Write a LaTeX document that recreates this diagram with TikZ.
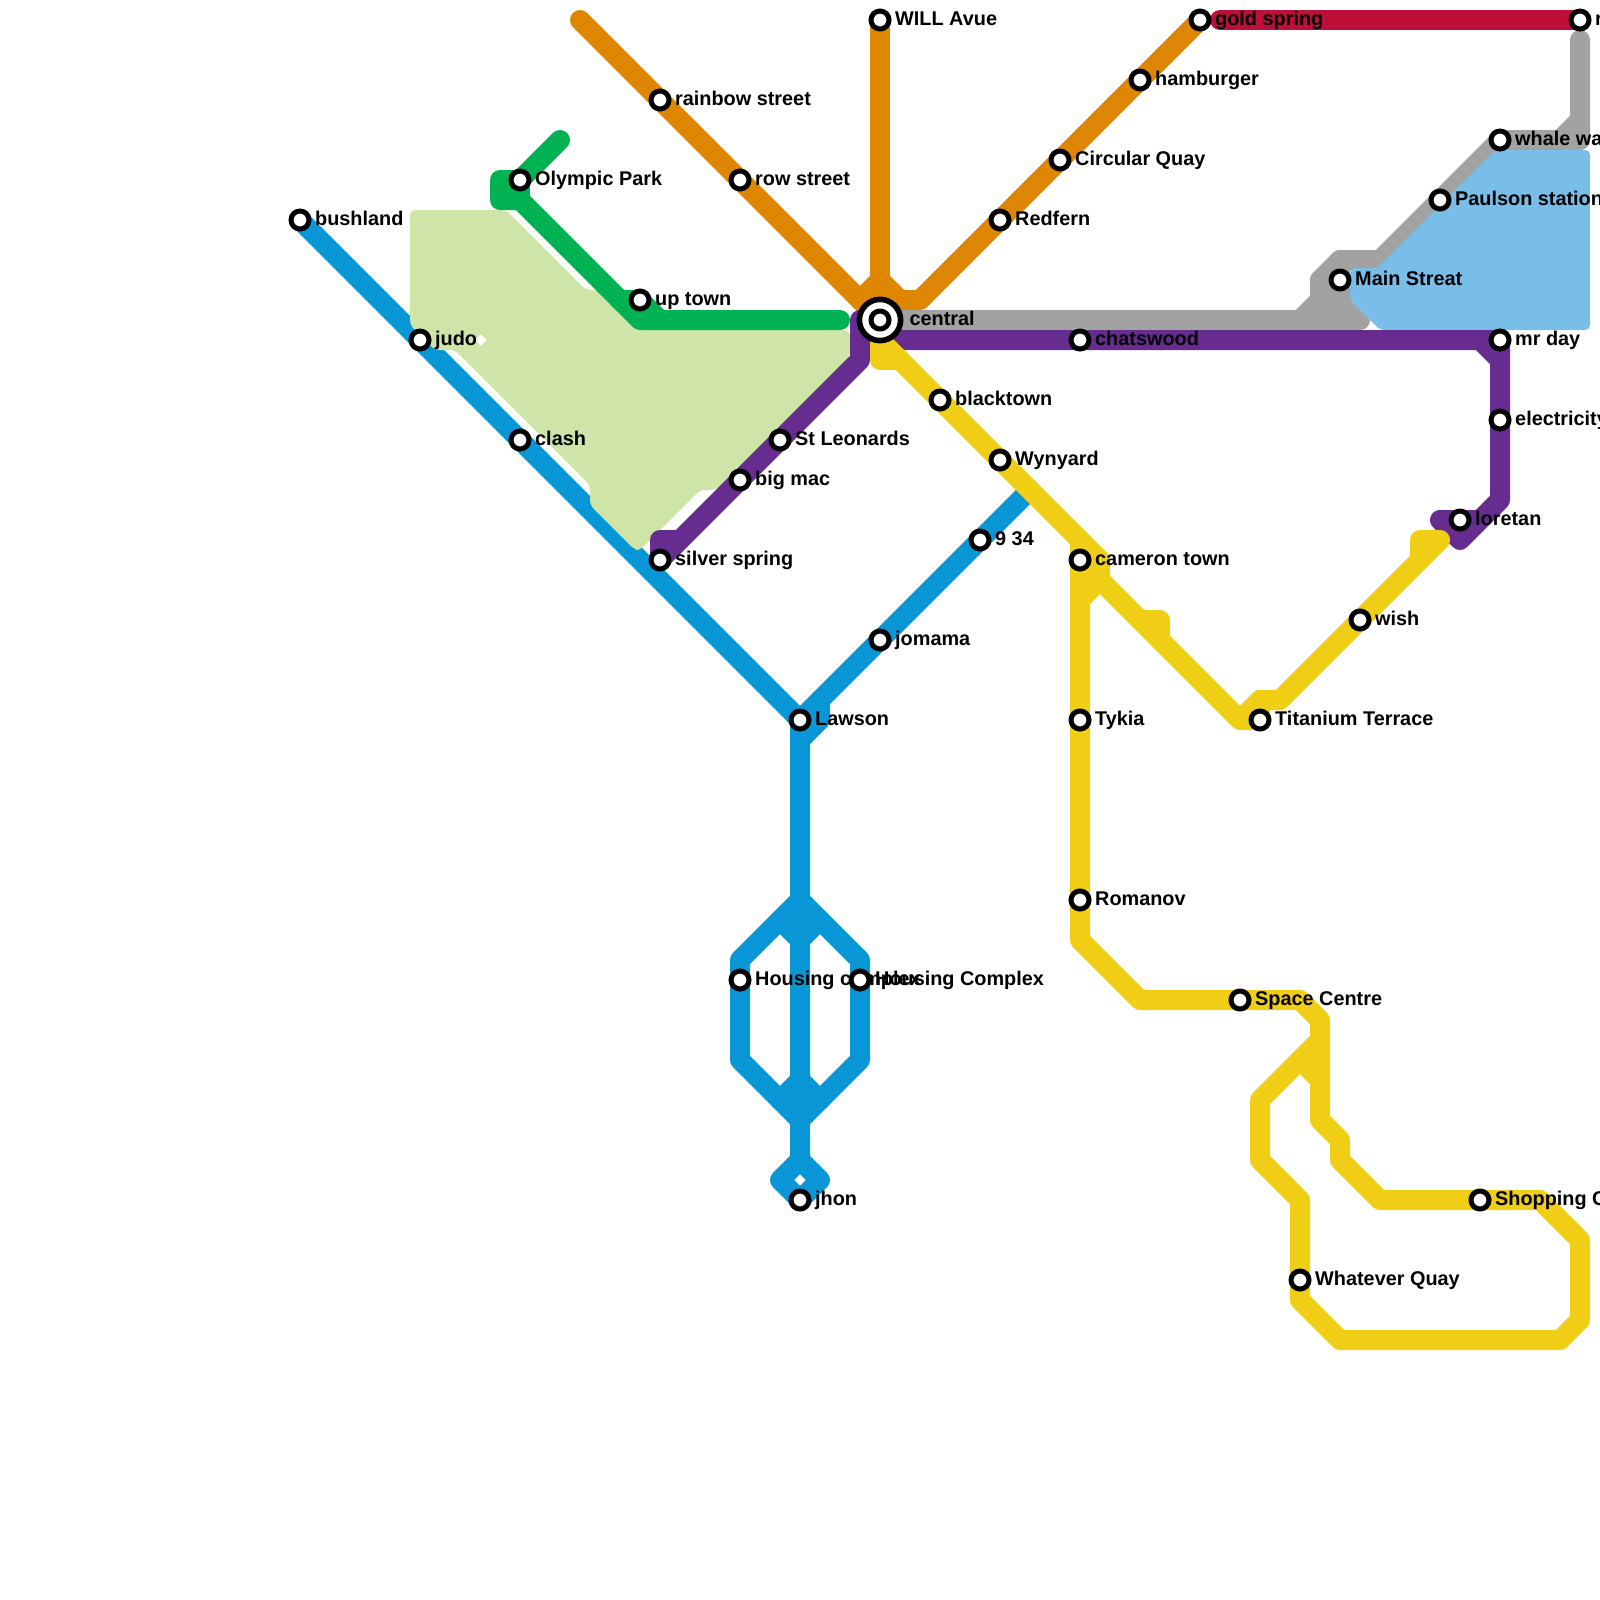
\documentclass[tikz,border=0pt]{standalone}
\usepackage{fontspec}
\setmainfont{Liberation Sans}
\usetikzlibrary{positioning}
\pgfdeclarelayer{stations}
\pgfsetlayers{main,stations}
\definecolor{lineblue}{HTML}{0896D7}
\definecolor{linegreen}{HTML}{00B251}
\definecolor{lineorange}{HTML}{DF8600}
\definecolor{linered}{HTML}{BD1038}
\definecolor{linegray}{HTML}{A2A2A2}
\definecolor{linepurple}{HTML}{662C90}
\definecolor{lineyellow}{HTML}{F0CE15}
\definecolor{arealime}{HTML}{CFE4A7}
\definecolor{areasky}{HTML}{79BDE9}
\newcommand{\stn}[4]{\node[stn](#1)at(#2,#3){};\node[lab](#1t)at(#2,#3){#4};}

\begin{document}
\begin{tikzpicture}[x=.25cm,y=-.25cm,
stn/.style={circle,draw=black,fill=white,line width=.0625cm,minimum size=.225cm,inner sep=0pt},
hub/.style={circle,draw=black,fill=white,line width=.07cm,minimum size=.515cm,inner sep=0pt},
lab/.style={anchor=base west,inner sep=0pt,xshift=.183cm,yshift=-.0625cm,font=\fontsize{7.06}{8.5}\selectfont\bfseries},
rail/.style={line width=.25cm,line cap=round,line join=round},
blue/.style={rail,draw=lineblue},
green/.style={rail,draw=linegreen},
orange/.style={rail,draw=lineorange},
red/.style={rail,draw=linered},
gray/.style={rail,draw=linegray},
purple/.style={rail,draw=linepurple},
yellow/.style={rail,draw=lineyellow},
area/.style={rounded corners=.0625cm}]
\useasboundingbox(0,0)rectangle(80,80);

\begin{pgfonlayer}{stations}
\stn{bushland}{15}{11}{bushland}
\stn{judo}{21}{17}{judo}
\stn{clash}{26}{22}{clash}
\stn{silver}{33}{28}{silver spring}
\stn{olympic}{26}{9}{Olympic Park}
\stn{uptown}{32}{15}{up town}
\stn{rainbow}{33}{5}{rainbow street}
\stn{row}{37}{9}{row street}
\stn{will}{44}{1}{WILL Avue}
\node[hub](centralring)at(44,16){};
\node[stn](central)at(44,16){};
\node[lab,xshift=.18cm](centralt)at(44,16){central};
\stn{stleonards}{39}{22}{St Leonards}
\stn{bigmac}{37}{24}{big mac}
\stn{gold}{60}{1}{gold spring}
\stn{hamburger}{57}{4}{hamburger}
\stn{circular}{53}{8}{Circular Quay}
\stn{redfern}{50}{11}{Redfern}
\stn{chatswood}{54}{17}{chatswood}
\stn{blacktown}{47}{20}{blacktown}
\stn{wynyard}{50}{23}{Wynyard}
\stn{nine}{49}{27}{9 34}
\stn{cameron}{54}{28}{cameron town}
\stn{jomama}{44}{32}{jomama}
\stn{lawson}{40}{36}{Lawson}
\stn{tykia}{54}{36}{Tykia}
\stn{romanov}{54}{45}{Romanov}
\stn{housinga}{37}{49}{Housing complex}
\stn{housingb}{43}{49}{Housing Complex}
\stn{jhon}{40}{60}{jhon}
\stn{space}{62}{50}{Space Centre}
\stn{whatever}{65}{64}{Whatever Quay}
\stn{shopping}{74}{60}{Shopping C}
\stn{titanium}{63}{36}{Titanium Terrace}
\stn{wish}{68}{31}{wish}
\stn{loretan}{73}{26}{loretan}
\stn{electricity}{75}{21}{electricity}
\stn{mrday}{75}{17}{mr day}
\stn{whale}{75}{7}{whale wa}
\stn{paulson}{72}{10}{Paulson station}
\stn{mainst}{67}{14}{Main Streat}
\stn{rtop}{79}{1}{r}
\end{pgfonlayer}

\coordinate(blueend)at(51.5,24.5);
\coordinate(greenend)at(28,7);
\coordinate(greenstop)at(42,16);
\coordinate(orangeend)at(29,1);
\coordinate(redend)at(61,1);
\coordinate(grayend)at(79,2);
\coordinate(graystop)at(68,16);
\coordinate(purplestop)at(72,26);
\coordinate(yellowstop)at(72,27);

\draw[blue](bushland.center)--(judo.center)--(clash.center)--(lawson.center)--(40,58);
\draw[blue](blueend)--(nine.center)--(jomama.center)--(lawson.center);
\draw[blue](41,35)--(41,36)--(40,37);
\draw[blue](40,47)--(39,46)(40,47)--(41,46);
\draw[blue](40,54)--(39,55)(40,54)--(41,55);
\draw[blue](40,45)--(37,48)--(housinga.center)--(37,53)--(40,56)--(43,53)--(housingb.center)--(43,48)--cycle;
\draw[blue](40,58)--(41,59)--(jhon.center)--(39,59)--cycle;

\fill[arealime,area](20.5,10.5)--(25.3,10.5)--(29.3,14.5)--(31.5,14.5)--(32.5,16)--(33,16.5)--(42.5,16.5)--(42.5,17.8)--(35.8,24.5)--(35,24.5)--(32,27.5)--(31.75,27.5)--(29.5,25.25)--(29.5,24.25)--(22.75,17.5)--(21.75,17.5)--(20.5,16.25)--cycle;
\fill[white](23.77,17)--(24.05,16.72)--(24.33,17)--(24.05,17.28)--cycle;

\draw[orange](orangeend)--(rainbow.center)--(row.center)--(central.center);
\draw[orange](will.center)--(central.center);
\draw[orange](43,15)--(44,14)--(45,15)--(46,15)--(redfern.center)--(circular.center)--(hamburger.center)--(gold.center);
\draw[orange](45,15)--(45,16);

\draw[green](greenend)--(olympic.center)--(25,9)--(25,10)--(26,10)--(32,16)--(greenstop);
\draw[green](olympic.center)--(26,10);
\draw[green](31,15)--(uptown.center)--(33,16);

\draw[red](redend)--(rtop.center);

\draw[gray](grayend)--(79,7)--(whale.center)--(paulson.center)--(67,15)--(graystop)--(central.center);
\draw[gray](79,6)--(78,7);
\draw[gray](69,13)--(67,13)--(66,14)--(66,15)--(65,16);
\draw[gray](mainst.center)--(67,13);
\draw[gray](66,14)--(mainst.center)--(67,15)--(66,15)--(66,16);

\fill[areasky,area](74.75,7.5)--(79.5,7.5)--(79.5,16.5)--(69,16.5)--(67.5,15)--(67.5,13.4)--(68.85,13.4)--cycle;

\draw[purple](central.center)--(43,16)--(43,18)--(stleonards.center)--(bigmac.center)--(silver.center)--(33,27)--(34,27);
\draw[purple](central.center)--(44,17)--(chatswood.center)--(mrday.center)--(75,17)--(electricity.center)--(75,25)--(73,27)--(purplestop)--(loretan.center)--(74,26);
\draw[purple](74,17)--(75,18);

\draw[yellow](central.center)--(44,18)--(45,18);
\draw[yellow](44,17)--(blacktown.center)--(wynyard.center)--(54,27)--(55,28)--(55,29)--(54,30);
\draw[yellow](54,27)--(cameron.center)--(tykia.center)--(romanov.center)--(54,47)--(57,50)--(space.center)--(65,50)--(66,51)--(66,56)--(67,57)--(67,58)--(69,60)--(shopping.center)--(77,60)--(79,62)--(79,66)--(78,67)--(67,67)--(65,65)--(whatever.center)--(65,60)--(63,58)--(63,55)--(66,52);
\draw[yellow](65,53)--(66,54);
\draw[yellow](55,29)--(57,31)--(58,31)--(58,32)--(57,31);
\draw[yellow](58,32)--(62,36)--(titanium.center)--(63,35)--(62,36);
\draw[yellow](63,35)--(64,35)--(wish.center)--(71,28)--(71,27)--(yellowstop)--(wish.center);
\end{tikzpicture}
\end{document}
